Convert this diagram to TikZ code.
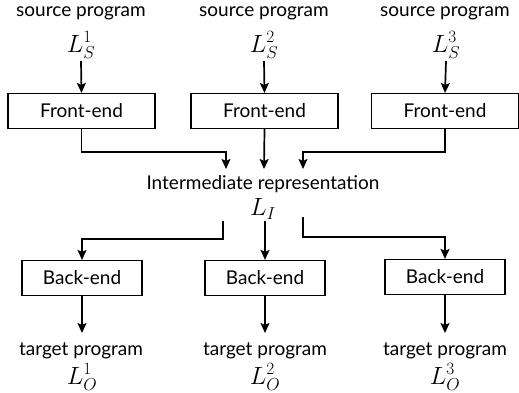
\documentclass[tikz,border=0pt]{standalone}
\usepackage{fontspec}
\setmainfont{Lato}
\usetikzlibrary{arrows.meta,calc}
\begin{document}
\begin{tikzpicture}[x=1pt,y=-1pt,
  every node/.style={font=\fontsize{19}{22}\selectfont, inner sep=0pt},
  lbl/.style={},
  mth/.style={font=\fontsize{24}{26}\selectfont},
  box/.style={draw, line width=1.2pt, minimum height=35pt, align=center},
  febox/.style={box, minimum width=147pt},
  bebox/.style={box, minimum width=120pt},
  arr/.style={line width=1.7pt, -{Stealth[length=10pt,width=9pt,inset=2pt]}},
  ln/.style={line width=1.7pt}]
\useasboundingbox (0,0) rectangle (519,392);
% sources
\node[lbl] (s1) at (81,13) {source program};
\node[lbl] (s2) at (264,13) {source program};
\node[lbl] (s3) at (445,13) {source program};
\node[mth] (ls1) at (81,45) {$L_S^1$};
\node[mth] (ls2) at (264,45) {$L_S^2$};
\node[mth] (ls3) at (446,45) {$L_S^3$};
% front-ends
\node[febox] (fe1) at (81.5,111) {Front-end};
\node[febox] (fe2) at (264.5,111) {Front-end};
\node[febox] (fe3) at (445,111) {Front-end};
\draw[arr] (ls1.south |- 0,61) -- (fe1.north);
\draw[arr] (ls2.south |- 0,61) -- (fe2.north);
\draw[arr] (ls3.south |- 0,61) -- (fe3.north);
% IR
\node[lbl] (ir) at (263,184) {Intermediate representation};
\node[mth] (li) at (263,209) {$L_I$};
\coordinate (t1) at (226,169);
\coordinate (t2) at (264,169);
\coordinate (t3) at (303,169);
\draw[arr] (fe1.south) -- (fe1.south |- 0,152) -| (t1);
\draw[arr] (fe2.south) -- (t2);
\draw[arr] (fe3.south) -- (fe3.south |- 0,152) -| (t3);
% back-ends
\node[bebox] (be1) at (82,278) {Back-end};
\node[bebox] (be2) at (265,278) {Back-end};
\node[bebox] (be3) at (445,277) {Back-end};
\coordinate (b1) at (223,221);
\coordinate (b2) at (265,221);
\coordinate (b3) at (303,217);
\draw[arr] (b1) -- (b1 |- 0,239) -| (be1.north);
\draw[arr] (b2) -- (be2.north);
\draw[arr] (b3) -- (b3 |- 0,237) -| (be3.north);
% targets
\node[lbl] (o1) at (81,351) {target program};
\node[lbl] (o2) at (265,351) {target program};
\node[lbl] (o3) at (445,351) {target program};
\node[mth] (lo1) at (82,377) {$L_O^1$};
\node[mth] (lo2) at (265,377) {$L_O^2$};
\node[mth] (lo3) at (445,377) {$L_O^3$};
\coordinate (e1) at (82,333);
\coordinate (e2) at (265,333);
\coordinate (e3) at (445,333);
\draw[arr] (be1.south) -- (e1);
\draw[arr] (be2.south) -- (e2);
\draw[arr] (be3.south) -- (e3);
\end{tikzpicture}
\end{document}
